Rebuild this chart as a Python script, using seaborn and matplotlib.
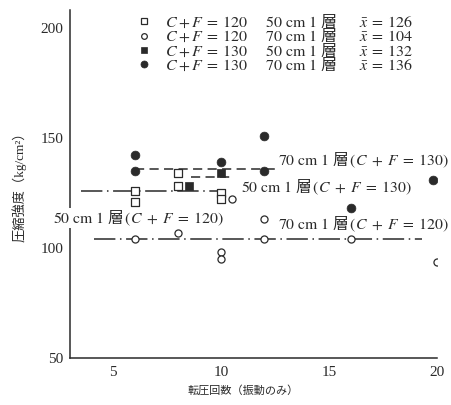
import matplotlib
matplotlib.use("Agg")
import matplotlib.pyplot as plt
import seaborn as sns
import pandas as pd
from matplotlib.lines import Line2D

# Compressive strength vs. number of roller passes (vibration only)
passes_50_120 = [6, 6, 8, 8, 10, 10]
strength_50_120 = [126, 121, 134, 128, 125, 122]
passes_70_120 = [6, 8, 10.5, 10, 10, 12, 12, 16, 20]
strength_70_120 = [104, 107, 122, 98, 95, 104, 113, 104, 93.5]
passes_50_130 = [8.5, 10]
strength_50_130 = [128, 134]
passes_70_130 = [6, 6, 10, 12, 12, 16, 19.8]
strength_70_130 = [142, 135, 139, 151, 135, 118, 131]

group_keys = ["50_120", "70_120", "50_130", "70_130"]
group_means = [126, 104, 132, 136]
mean_line_ranges = [(3.5, 10.0), (4.1, 19.3), (8.6, 10.4), (6.0, 19.3)]

legend_labels = [
    r"$C\:+\:F\:=\:120\quad\ \ 50\ \mathrm{cm}\ 1\ $層$\quad\ \ \ \bar{x}\:=\:126$",
    r"$C\:+\:F\:=\:120\quad\ \ 70\ \mathrm{cm}\ 1\ $層$\quad\ \ \ \bar{x}\:=\:104$",
    r"$C\:+\:F\:=\:130\quad\ \ 50\ \mathrm{cm}\ 1\ $層$\quad\ \ \ \bar{x}\:=\:132$",
    r"$C\:+\:F\:=\:130\quad\ \ 70\ \mathrm{cm}\ 1\ $層$\quad\ \ \ \bar{x}\:=\:136$",
]
line_labels = [
    r"$50\ \mathrm{cm}\ 1\ $層$\,(C\;+\;F\;=\;120)$",
    r"$70\ \mathrm{cm}\ 1\ $層$\,(C\;+\;F\;=\;120)$",
    r"$50\ \mathrm{cm}\ 1\ $層$\,(C\;+\;F\;=\;130)$",
    r"$70\ \mathrm{cm}\ 1\ $層$\,(C\;+\;F\;=\;130)$",
]
line_label_pos = [(2.2, 113.6), (12.65, 110.5), (10.9, 127.7), (12.65, 140.0)]

x_ticks = [5, 10, 15, 20]
y_ticks = [50, 100, 150, 200]
x_label = "転圧回数（振動のみ）"
y_label = "圧縮強度（kg/cm²）"

frames = []
for key, xs, ys in [("50_120", passes_50_120, strength_50_120),
                    ("70_120", passes_70_120, strength_70_120),
                    ("50_130", passes_50_130, strength_50_130),
                    ("70_130", passes_70_130, strength_70_130)]:
    frames.append(pd.DataFrame({"passes": xs, "strength": ys, "group": key}))
df = pd.concat(frames, ignore_index=True)

sns.set_theme(style="white")
plt.rcParams["font.family"] = ["Liberation Serif", "Noto Sans CJK JP"]
plt.rcParams["mathtext.fontset"] = "stix"

ink = "#2a2a2a"
marker_style = {
    "50_120": dict(marker="s", s=30, facecolor="white", edgecolor=ink, linewidth=0.9),
    "70_120": dict(marker="o", s=26, facecolor="white", edgecolor=ink, linewidth=0.9),
    "50_130": dict(marker="s", s=34, facecolor=ink, edgecolor=ink, linewidth=0.5),
    "70_130": dict(marker="o", s=40, facecolor=ink, edgecolor=ink, linewidth=0.5),
}
line_style = {
    "50_120": (0, (14, 3, 1, 3)),
    "70_120": (0, (14, 3, 1, 3)),
    "50_130": (0, (6, 3.5)),
    "70_130": (0, (6, 3.5)),
}

fig = plt.figure(figsize=(4.52, 4.05), dpi=100)
ax = fig.add_axes([0.155, 0.116, 0.812, 0.859])

for key, level, (x0, x1) in zip(group_keys, group_means, mean_line_ranges):
    ax.hlines(level, x0, x1, colors=ink, linestyles=[line_style[key]], linewidth=1.1, zorder=2)

for key in group_keys:
    sns.scatterplot(data=df[df.group == key], x="passes", y="strength", ax=ax,
                    zorder=3, legend=False, **marker_style[key])

for text, (tx, ty) in zip(line_labels, line_label_pos):
    ax.text(tx, ty, text, fontsize=11.3, color=ink, va="center", ha="left",
            family="Noto Sans CJK JP", clip_on=False, zorder=4,
            bbox=dict(facecolor="white", edgecolor="none", pad=0.5))

handles = []
for key in group_keys:
    st = marker_style[key]
    handles.append(Line2D([], [], linestyle="none", marker=st["marker"],
                          markersize=(st["s"] ** 0.5) * 0.8,
                          markerfacecolor=st["facecolor"], markeredgecolor=st["edgecolor"],
                          markeredgewidth=st["linewidth"]))
ax.legend(handles, legend_labels, loc="upper left", bbox_to_anchor=(0.150, 1.022),
          frameon=False, handlelength=1.0, handletextpad=0.8, labelspacing=-0.18,
          borderpad=0.2, prop={"family": "Noto Sans CJK JP", "size": 11.5},
          labelcolor=ink)

ax.set_xlim(3, 20)
ax.set_ylim(50, 208)
ax.set_xticks(x_ticks)
ax.set_yticks(y_ticks)
ax.tick_params(direction="in", length=7, width=1.0, colors=ink, labelsize=11, pad=6)
ax.tick_params(axis="y", pad=5)
ax.set_xlabel(x_label, family=["Liberation Serif", "Noto Sans CJK JP"], fontsize=8,
              color=ink)
ax.xaxis.set_label_coords(0.471, -0.078)
ax.set_ylabel(y_label, family=["Liberation Serif", "Noto Sans CJK JP"], fontsize=9.5,
              color=ink, labelpad=10)
for side in ["top", "right"]:
    ax.spines[side].set_visible(False)
for side in ["left", "bottom"]:
    ax.spines[side].set_color(ink)
    ax.spines[side].set_linewidth(1.1)

fig.savefig("out.png", dpi=100, facecolor="white")
